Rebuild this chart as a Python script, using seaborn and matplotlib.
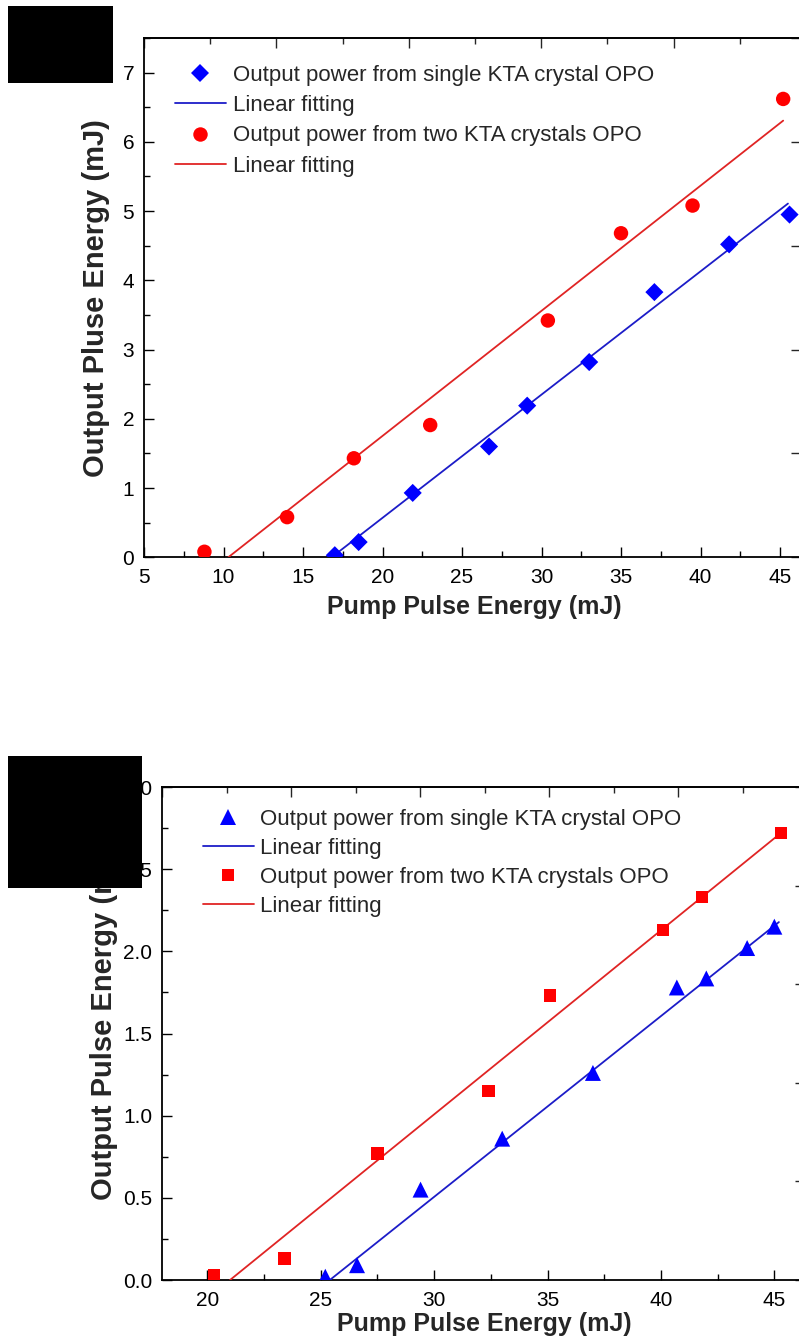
import numpy as np
import matplotlib
matplotlib.use("Agg")
import matplotlib.pyplot as plt
import seaborn as sns
from matplotlib.lines import Line2D
from matplotlib.patches import Rectangle
from matplotlib.ticker import MultipleLocator, FormatStrFormatter, NullLocator

sns.set_theme(style="ticks")
plt.rcParams["font.family"] = ["Liberation Sans", "DejaVu Sans"]

# ---- panel (a): KTA OPO output vs pump energy ----
pump_single_a = [17.0, 18.5, 21.9, 26.7, 29.1, 33.0, 37.1, 41.8, 45.6]
out_single_a = [0.03, 0.22, 0.93, 1.60, 2.19, 2.82, 3.83, 4.52, 4.95]
pump_two_a = [8.8, 14.0, 18.2, 23.0, 30.4, 35.0, 39.5, 45.2]
out_two_a = [0.08, 0.58, 1.43, 1.91, 3.42, 4.68, 5.08, 6.62]
# linear fit: (slope, threshold pump energy, last pump energy)
fit_single_a = (0.178, 16.8, 45.5)
fit_two_a = (0.1807, 10.3, 45.2)

# ---- panel (b) ----
pump_single_b = [25.2, 26.6, 29.4, 33.0, 37.0, 40.7, 42.0, 43.8, 45.0]
out_single_b = [0.02, 0.09, 0.55, 0.86, 1.26, 1.78, 1.835, 2.02, 2.15]
pump_two_b = [20.3, 23.4, 27.5, 32.4, 35.1, 40.1, 41.8, 45.3]
out_two_b = [0.03, 0.13, 0.77, 1.15, 1.73, 2.13, 2.33, 2.72]
fit_single_b = (0.110, 25.4, 45.2)
fit_two_b = (0.112, 21.0, 45.3)

label_single = "Output power from single KTA crystal OPO"
label_two = "Output power from two KTA crystals OPO"
label_fit = "Linear fitting"

BLUE = "#0000ff"
RED = "#ff0000"
BLUE_LINE = "#1c1cc8"
RED_LINE = "#e02424"

W, H = 799, 1339
fig = plt.figure(figsize=(W / 100, H / 100), dpi=100)


def px_axes(left, top, right, bottom):
    return fig.add_axes([left / W, 1 - bottom / H, (right - left) / W, (bottom - top) / H])


def fit_line(fit):
    slope, x0, x1 = fit
    x = np.array([x0, x1])
    return x, slope * (x - x0)


def draw_panel(ax, xs1, ys1, fit1, m1, s1, ms1, xs2, ys2, fit2, m2, s2, ms2,
               xlim, ylim, xmaj, ymaj, ymin, yfmt, top_step, right_step, ylabel,
               leg_anchor, leg_spacing):
    sns.scatterplot(x=xs1, y=ys1, marker=m1, s=s1, color=BLUE, edgecolor="none",
                    linewidth=0, ax=ax, zorder=4, legend=False)
    sns.scatterplot(x=xs2, y=ys2, marker=m2, s=s2, color=RED, edgecolor="none",
                    linewidth=0, ax=ax, zorder=4, legend=False)
    fx, fy = fit_line(fit1)
    sns.lineplot(x=fx, y=fy, color=BLUE_LINE, linewidth=1.3, ax=ax, zorder=3)
    fx, fy = fit_line(fit2)
    sns.lineplot(x=fx, y=fy, color=RED_LINE, linewidth=1.3, ax=ax, zorder=3)

    ax.set_xlim(*xlim)
    ax.set_ylim(*ylim)
    ax.xaxis.set_major_locator(MultipleLocator(xmaj))
    ax.xaxis.set_minor_locator(MultipleLocator(xmaj / 2))
    ax.yaxis.set_major_locator(MultipleLocator(ymaj))
    ax.yaxis.set_minor_locator(MultipleLocator(ymin))
    ax.yaxis.set_major_formatter(FormatStrFormatter(yfmt))
    ax.tick_params(which="both", direction="in", top=False, right=False, width=1.0,
                   labelsize=15, colors="black")
    ax.tick_params(which="major", length=7.5)
    ax.tick_params(which="minor", length=4)
    ax.tick_params(axis="y", pad=7)
    ax.tick_params(axis="x", pad=8)
    for sp in ax.spines.values():
        sp.set_linewidth(1.3)
        sp.set_color("black")
        sp.set_visible(True)

    # top axis: evenly spaced ticks starting at the left edge
    x0 = xlim[0]
    sec = ax.secondary_xaxis("top", functions=(lambda x: (x - x0) / top_step,
                                               lambda t: x0 + t * top_step))
    sec.xaxis.set_major_locator(MultipleLocator(2))
    sec.xaxis.set_minor_locator(MultipleLocator(1))
    sec.tick_params(which="both", direction="in", labeltop=False, width=1.0)
    sec.tick_params(which="major", length=7.5)
    sec.tick_params(which="minor", length=4)
    sec.spines["top"].set_linewidth(1.3)

    # right axis
    secy = ax.secondary_yaxis("right", functions=(lambda y: y, lambda y: y))
    secy.yaxis.set_major_locator(MultipleLocator(right_step))
    secy.yaxis.set_minor_locator(NullLocator())
    secy.tick_params(which="major", direction="in", labelright=False, length=7.5, width=1.0)
    secy.spines["right"].set_linewidth(1.3)

    ax.set_xlabel("Pump Pulse Energy (mJ)", fontsize=18, fontweight="bold")
    ax.set_ylabel(ylabel, fontsize=21, fontweight="bold")

    handles = [
        Line2D([], [], marker=m1, color=BLUE, linestyle="none", markersize=ms1,
               markeredgewidth=0),
        Line2D([], [], color=BLUE_LINE, linewidth=1.3),
        Line2D([], [], marker=m2, color=RED, linestyle="none", markersize=ms2,
               markeredgewidth=0),
        Line2D([], [], color=RED_LINE, linewidth=1.3),
    ]
    labels = [label_single, label_fit, label_two, label_fit]
    ax.legend(handles, labels, loc="upper left", bbox_to_anchor=leg_anchor,
              frameon=False, fontsize=16, handlelength=2.3, handletextpad=0.3,
              borderpad=0, borderaxespad=0, labelspacing=leg_spacing)


# top panel: axes box in pixels
ax1 = px_axes(144, 38, 801, 557.3)
draw_panel(ax1, pump_single_a, out_single_a, fit_single_a, "D", 85, 9.2,
           pump_two_a, out_two_a, fit_two_a, "o", 108, 10.4,
           xlim=(5, 5 + 657 / 15.9), ylim=(0, 7.5), xmaj=5, ymaj=1, ymin=0.5,
           yfmt="%d", top_step=66.2 / 15.9, right_step=1.5,
           ylabel="Output Pluse Energy (mJ)", leg_anchor=(0.047, 0.9485),
           leg_spacing=0.42)
ax1.xaxis.set_label_coords(0.502, -0.072)
ax1.yaxis.set_label_coords(-0.052, 0.5)

# bottom panel
ax2 = px_axes(162, 787, 805, 1280)
draw_panel(ax2, pump_single_b, out_single_b, fit_single_b, "^", 132, 11.5,
           pump_two_b, out_two_b, fit_two_b, "s", 81, 9.0,
           xlim=(18, 18 + 643 / 22.68), ylim=(0, 3.0), xmaj=5, ymaj=0.5, ymin=0.25,
           yfmt="%.1f", top_step=64.5 / 22.68, right_step=0.6,
           ylabel="Output Pulse Energy (mJ)", leg_anchor=(0.063, 0.955),
           leg_spacing=0.35)
ax2.xaxis.set_label_coords(0.502, -0.064)
ax2.yaxis.set_label_coords(-0.069, 0.525)

# masked panel tags
for (l, t, r, b) in [(8, 6, 113, 83), (8, 756, 142, 888)]:
    fig.patches.append(Rectangle((l / W, 1 - b / H), (r - l) / W, (b - t) / H,
                                 transform=fig.transFigure, facecolor="black",
                                 edgecolor="none", zorder=10))

fig.savefig("out.png", dpi=100, facecolor="white")
